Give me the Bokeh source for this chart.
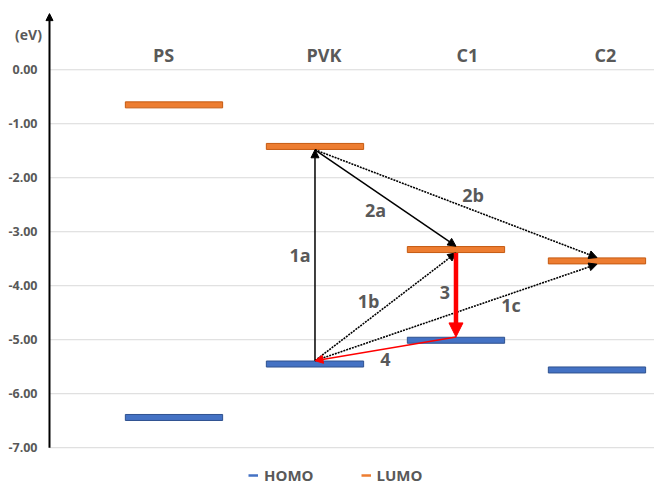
from bokeh.plotting import figure
from bokeh.models import (Range1d, Arrow, NormalHead, Label, Legend, LegendItem,
                          ColumnDataSource)
from bokeh.core.properties import value
from bokeh.embed import file_html
from bokeh.resources import INLINE

# ---- data ----
categories = ["PS", "PVK", "C1", "C2"]
homo = [-6.44, -5.45, -5.01, -5.56]
lumo = [-0.65, -1.42, -3.33, -3.54]
y_ticks = [-7, -6, -5, -4, -3, -2, -1, 0]
y_tick_labels = ["%.2f" % t for t in y_ticks]
xpos = [1, 2, 3, 4]

# transitions: label, from (category index, level, edge), to (category index, level, edge), style
transitions = [
    ("1a", 1, "homo", +1, 1, "lumo", -1, "solid"),
    ("2a", 1, "lumo", -1, 2, "lumo", +1, "solid"),
    ("2b", 1, "lumo", -1, 3, "lumo", +1, "dotted"),
    ("1b", 1, "homo", +1, 2, "lumo", -1, "dotted"),
    ("1c", 1, "homo", +1, 3, "lumo", -1, "dotted"),
    ("3", 2, "lumo", -1, 2, "homo", +1, "thick"),
    ("4", 2, "homo", +1, 1, "homo", +1, "red"),
]
# label offsets from arrow midpoints (pixels, right / up)
label_dx = [-15, -10, 17, -17, 55, -11, 0]
label_dy = [0, -12.5, 9, 6, 7, 2, -10.5]
cat_dx = [-10.5, 9, 11.5, 8.5]

GREY = "#595959"
ORANGE = "#ED7D31"
BLUE = "#4472C4"
FONT = "Open Sans"

p = figure(width=654, height=485,
           x_range=Range1d(-0.2305, 4.408), y_range=Range1d(-7.70, 1.283),
           output_backend="svg", toolbar_location=None,
           x_axis_location=None, y_axis_location=None,
           min_border_left=0, min_border_right=0, min_border_top=0, min_border_bottom=0)
p.outline_line_color = None
p.grid.visible = False

axis_x = 0.117
x_end = p.x_range.end

# gridlines and tick labels
tick_src = ColumnDataSource(dict(y=y_ticks, lab=y_tick_labels,
                                 x0=[axis_x] * len(y_ticks), x1=[x_end] * len(y_ticks)))
p.segment(x0="x0", x1="x1", y0="y", y1="y", line_color="#D9D9D9", line_width=1,
          source=tick_src)
p.text(x="x0", y="y", text="lab", x_offset=-12, text_align="right", text_baseline="middle",
       text_font=value(FONT), text_font_style="bold", text_font_size="12.5px",
       text_color=GREY, source=tick_src)

# y axis arrow
p.add_layout(Arrow(x_start=axis_x, y_start=-7, x_end=axis_x, y_end=1.04, line_width=2,
                   line_color="black",
                   end=NormalHead(size=7, fill_color="black", line_color="black")))
p.add_layout(Label(x=axis_x, y=0.66, x_offset=-21, text="(eV)", text_align="center",
                   text_baseline="alphabetic", text_font=FONT, text_font_style="bold",
                   text_font_size="14px", text_color=GREY))

# energy levels
src = ColumnDataSource(dict(x=xpos, homo=homo, lumo=lumo))
p.rect(x="x", y="lumo", width=0.69, height=6, height_units="screen",
       fill_color=ORANGE, line_color="#C55A11", line_width=1, source=src)
p.rect(x="x", y="homo", width=0.69, height=6, height_units="screen",
       fill_color=BLUE, line_color="#2F528F", line_width=1, source=src)

# category labels
for i, c in enumerate(categories):
    p.add_layout(Label(x=xpos[i], y=0.265, x_offset=cat_dx[i], text=c, text_align="center",
                       text_baseline="alphabetic", text_font=FONT, text_font_style="bold",
                       text_font_size="18px", text_color=GREY))

# transitions
half = 0.062
levels = {"homo": homo, "lumo": lumo}
for k, (lab, i0, l0, e0, i1, l1, e1, style) in enumerate(transitions):
    xs, ys = xpos[i0], levels[l0][i0] + e0 * half
    xe, ye = xpos[i1], levels[l1][i1] + e1 * half
    if style == "solid":
        kw = dict(line_color="black", line_width=1.5)
        head = NormalHead(size=8, fill_color="black", line_color="black", line_width=1)
    elif style == "dotted":
        kw = dict(line_color="black", line_width=1.6, line_dash="2 1")
        head = NormalHead(size=8, fill_color="black", line_color="black", line_width=1)
    elif style == "thick":
        kw = dict(line_color="#FF0000", line_width=4.5)
        head = NormalHead(size=14, fill_color="#FF0000", line_color="#FF0000", line_width=1)
    else:
        kw = dict(line_color="#FF0000", line_width=1.5)
        head = NormalHead(size=8, fill_color="#FF0000", line_color="#FF0000", line_width=1)
    p.add_layout(Arrow(x_start=xs, y_start=ys, x_end=xe, y_end=ye, end=head, **kw))
    p.add_layout(Label(x=(xs + xe) / 2, y=(ys + ye) / 2, x_offset=label_dx[k],
                       y_offset=label_dy[k], text=lab, text_align="center",
                       text_baseline="middle", text_font=FONT, text_font_style="bold",
                       text_font_size="18px", text_color=GREY))

# legend (single-point lines draw nothing themselves but give legend glyphs)
r_h = p.line(x=[xpos[0]], y=[homo[0]], line_color=BLUE, line_width=2.5)
r_l = p.line(x=[xpos[0]], y=[lumo[0]], line_color=ORANGE, line_width=2.5)
legend = Legend(items=[LegendItem(label="HOMO", renderers=[r_h]),
                       LegendItem(label="LUMO", renderers=[r_l])],
                orientation="horizontal", location=(248, 0),
                border_line_color=None, background_fill_alpha=0, padding=0, margin=0,
                spacing=47, glyph_width=10, glyph_height=10, label_standoff=6,
                label_height=10, label_text_font=FONT, label_text_font_style="bold",
                label_text_font_size="15px", label_text_color=GREY)
p.add_layout(legend)

open("out.html", "w").write(file_html(p, INLINE))
